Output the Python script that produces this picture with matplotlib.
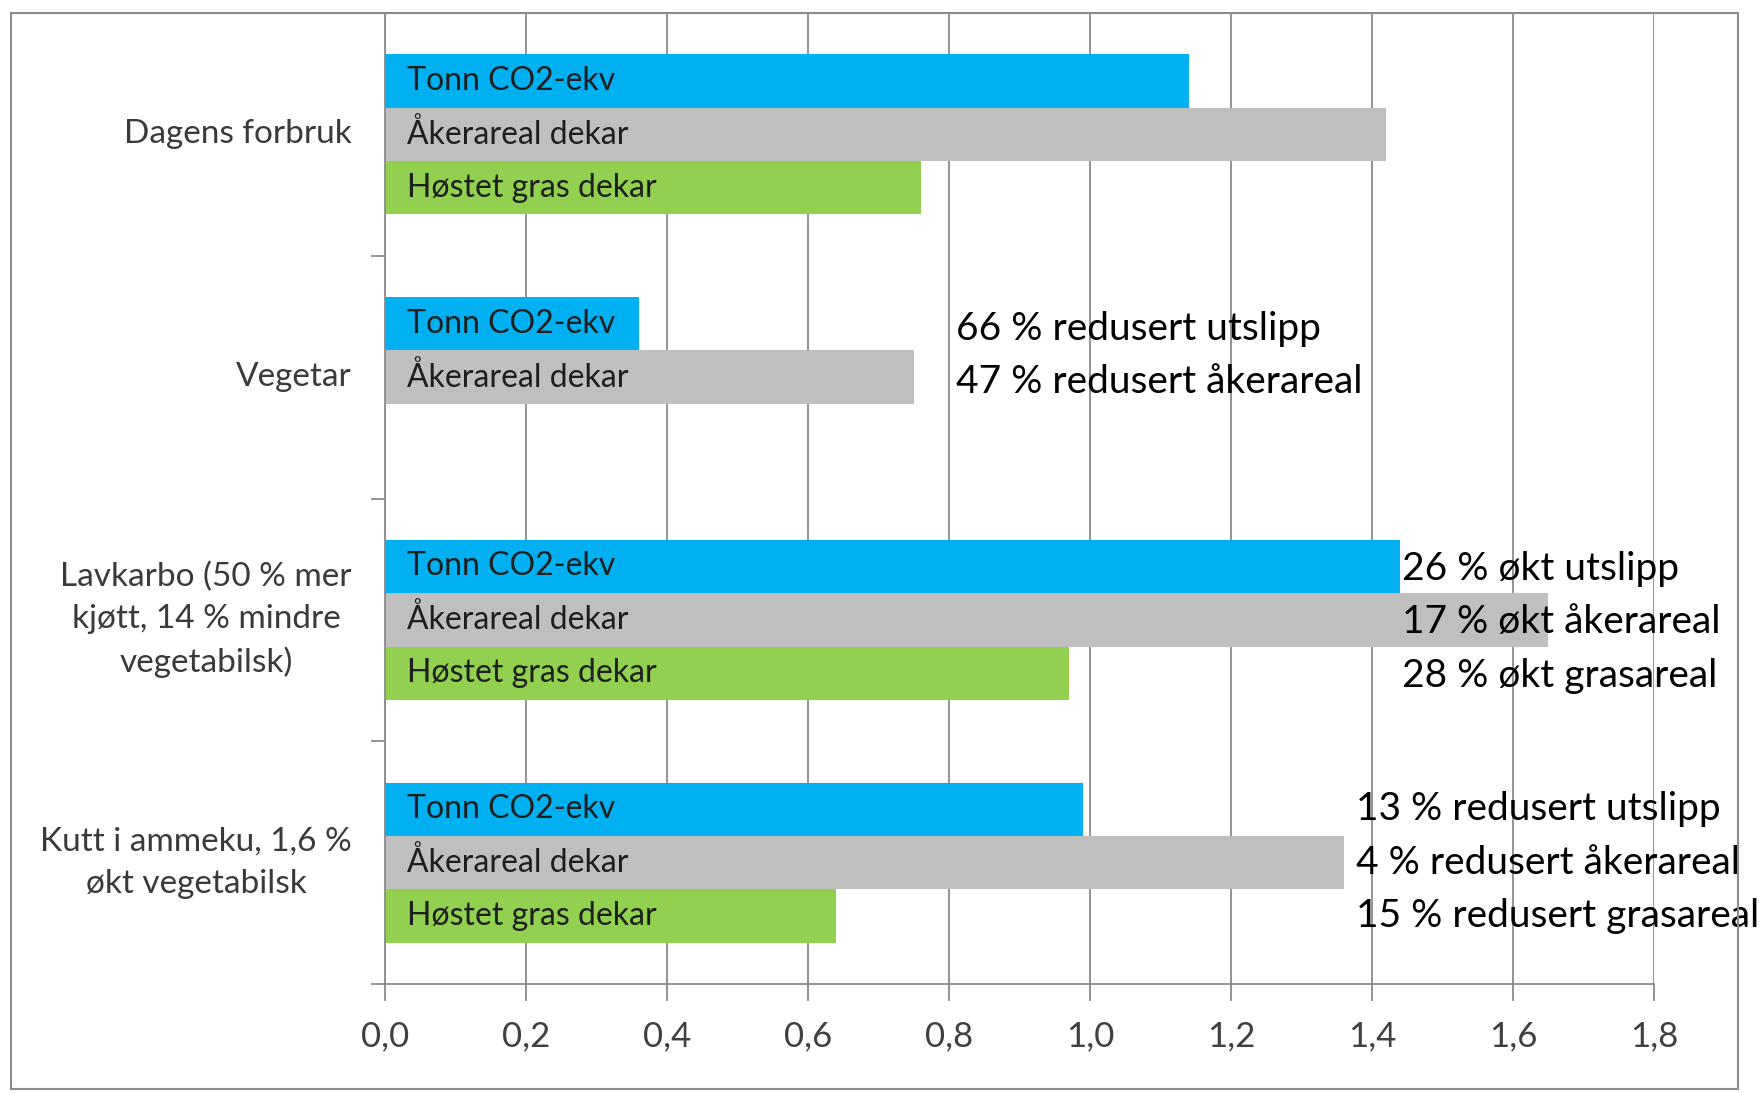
#diett.py

import numpy as np
import matplotlib.pyplot as plt
from matplotlib.patches import Rectangle

# ------------------------------------------------------
# DATA
# ------------------------------------------------------
categories = ["Dagens forbruk",
              "Vegetar",
              "Lavkarbo (50 % mer\nkjøtt, 14 % mindre\nvegetabilsk)",
              "Kutt i ammeku, 1,6 %\nøkt vegetabilsk"]
series_names = ["Tonn CO2-ekv", "Åkerareal dekar", "Høstet gras dekar"]
co2 = [1.14, 0.36, 1.44, 0.99]
aker = [1.42, 0.75, 1.65, 1.36]
gras = [0.76, np.nan, 0.97, 0.64]
xticks = [0.0, 0.2, 0.4, 0.6, 0.8, 1.0, 1.2, 1.4, 1.6, 1.8]
notes = [[],
         ["66 % redusert utslipp", "47 % redusert åkerareal"],
         ["26 % økt utslipp", "17 % økt åkerareal", "28 % økt grasareal"],
         ["13 % redusert utslipp", "4 % redusert åkerareal", "15 % redusert grasareal"]]

# ------------------------------------------------------
# STYLE
# ------------------------------------------------------
colors = ["#00B0F0", "#BFBFBF", "#92D050"]
grid_color = "#8A8A8A"
font = "Lato"
h = 0.22                                  # bar height
note_x = [None, 0.81, 1.443, 1.377]       # left edge of the annotation text
note_dy = [0, 0.02, 0.01, 0.0]            # small vertical nudge per group
plt.rcParams["font.family"] = [font, "DejaVu Sans"]

# ------------------------------------------------------
# PLOTTING
# ------------------------------------------------------
fig = plt.figure(figsize=(17.64, 10.94), dpi=100)
ax = fig.add_axes([385/1764, 1 - 984/1094, (1654-385)/1764, (984-13)/1094])

y = np.arange(len(categories))
series = [co2, aker, gras]
for s, (vals, col, name) in enumerate(zip(series, colors, series_names)):
    pos = y + (s - 1) * h
    ax.barh(pos, vals, height=h, color=col, zorder=2)
    for p, v in zip(pos, vals):
        if not np.isnan(v):
            ax.text(0.031, p, name, fontsize=23, color="#1e1e1e",
                    va="center", ha="left", zorder=3)

# annotations to the right of the bars
for i, lines in enumerate(notes):
    for s, line in enumerate(lines):
        ax.text(note_x[i], y[i] + (s - 1) * h + note_dy[i], line, fontsize=28,
                color="black", va="center", ha="left", zorder=4, clip_on=False)

# ------------------------------------------------------
# FORMATTING
# ------------------------------------------------------
ax.set_xlim(0, 1.8)
ax.set_ylim(3.5, -0.5)
ax.set_xticks(xticks)
ax.set_xticklabels([f"{t:.1f}".replace(".", ",") for t in xticks],
                   fontsize=25, color="#404040")
ax.tick_params(axis="x", length=12, width=1.3, color=grid_color, pad=14)
ax.xaxis.grid(True, color=grid_color, linewidth=1.3, zorder=0)
ax.set_axisbelow(True)

ax.set_yticks(y)
ax.set_yticklabels([])
ax.tick_params(axis="y", length=0)
ax.set_yticks(np.arange(-0.5, 4, 1), minor=True)
ax.tick_params(axis="y", which="minor", length=10, width=1.3, color=grid_color)

for i, cat in enumerate(categories):
    ax.text(-0.047, y[i], cat, fontsize=24, color="#3a3a3a", ha="right",
            va="center", multialignment="center", linespacing=1.5,
            transform=ax.transData, clip_on=False)

for side in ["top", "right"]:
    ax.spines[side].set_visible(False)
for side in ["left", "bottom"]:
    ax.spines[side].set_color(grid_color)
    ax.spines[side].set_linewidth(1.3)

# outer frame round the whole chart
fig.patches.append(Rectangle((11/1764, 1 - 1089/1094), (1738-11)/1764,
                             (1089-13)/1094, transform=fig.transFigure,
                             fill=False, edgecolor="#8C8C8C", linewidth=1.5))

plt.savefig("out.png", dpi=100)
